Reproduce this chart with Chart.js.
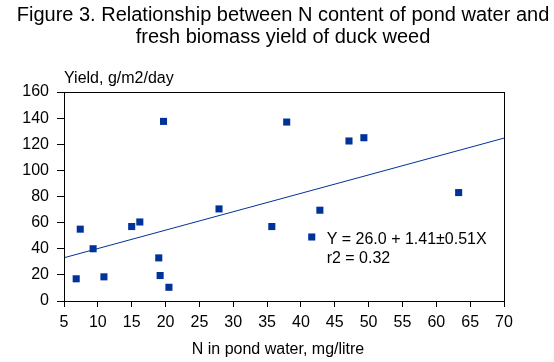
<!DOCTYPE html>
<html>
<head>
<meta charset="utf-8">
<script src="https://cdn.jsdelivr.net/npm/chart.js@4.4.0/dist/chart.umd.min.js"></script>
<style>
  html, body { margin: 0; padding: 0; background: #fff; }
  #wrap { width: 554px; height: 362px; }
</style>
</head>
<body>
<div id="wrap"><canvas id="chart" width="554" height="362"></canvas></div>
<script>
// N in pond water (mg/litre) and fresh biomass yield (g/m2/day)
const nWater = [6.8, 7.4, 9.3, 10.9, 15.0, 16.2, 19.0, 19.2, 19.7, 20.5, 27.9, 35.7, 37.9, 41.6, 42.8, 47.1, 49.3, 63.3];
const yieldVals = [17, 55, 40, 18.5, 57, 60.5, 33, 19.5, 137.5, 10.5, 70.5, 57, 137, 49, 69.5, 122.5, 125, 83];

// fitted line end points
const fitX = [5, 70];
const fitY = [33.1, 124.7];

const xTicks = [5, 10, 15, 20, 25, 30, 35, 40, 45, 50, 55, 60, 65, 70];
const yTicks = [0, 20, 40, 60, 80, 100, 120, 140, 160];

const titleLines = ['Figure 3. Relationship between N content of pond water and', 'fresh biomass yield of duck weed'];
const equationLines = ['Y = 26.0 + 1.41\u00b10.51X', 'r2 = 0.32'];

const blue = '#003399';
const font = '"Liberation Sans", Arial, sans-serif';

const decor = {
  id: 'decor',
  afterDraw(chart) {
    const { ctx, chartArea: a, scales } = chart;
    ctx.save();
    ctx.strokeStyle = '#000';
    ctx.lineWidth = 1;
    ctx.strokeRect(a.left + 0.5, a.top + 0.5, a.right - a.left, a.bottom - a.top);

    ctx.fillStyle = '#000';
    ctx.textBaseline = 'middle';
    ctx.textAlign = 'center';
    ctx.font = '20px ' + font;
    ctx.fillText(titleLines[0], 283, 15);
    ctx.fillText(titleLines[1], 283, 37);

    ctx.font = '16px ' + font;
    ctx.textAlign = 'left';
    ctx.fillText('Yield, g/m2/day', 64, 79);

    ctx.textAlign = 'center';
    ctx.fillText('N in pond water, mg/litre', 278, 350);

    ctx.textAlign = 'left';
    const ex = scales.x.getPixelForValue(43.8);
    const ey = scales.y.getPixelForValue(47);
    ctx.fillText(equationLines[0], ex, ey);
    ctx.fillText(equationLines[1], ex, ey + 19);
    ctx.restore();
  }
};

new Chart(document.getElementById('chart'), {
  type: 'scatter',
  data: {
    datasets: [
      {
        label: 'Yield',
        data: nWater.map((x, i) => ({ x, y: yieldVals[i] })),
        pointStyle: 'rect',
        pointRadius: 5,
        pointBackgroundColor: blue,
        pointBorderWidth: 0,
        showLine: false
      },
      {
        label: 'Fit',
        type: 'line',
        data: fitX.map((x, i) => ({ x, y: fitY[i] })),
        borderColor: blue,
        borderWidth: 1,
        pointRadius: 0,
        fill: false
      }
    ]
  },
  options: {
    responsive: false,
    animation: false,
    layout: { padding: { top: 92, right: 50, left: 0, bottom: 0 } },
    plugins: {
      legend: { display: false },
      tooltip: { enabled: false }
    },
    scales: {
      x: {
        type: 'linear',
        min: 5,
        max: 70,
        afterBuildTicks: s => { s.ticks = xTicks.map(v => ({ value: v })); },
        afterFit: s => { s.height = 61; },
        grid: { drawOnChartArea: false, drawTicks: true, tickLength: 6, color: '#000' },
        border: { color: '#000' },
        ticks: { color: '#000', padding: 6, maxRotation: 0, font: { family: font, size: 16 } }
      },
      y: {
        type: 'linear',
        min: 0,
        max: 160,
        afterBuildTicks: s => { s.ticks = yTicks.map(v => ({ value: v })); },
        afterFit: s => { s.width = 64; },
        grid: { drawOnChartArea: false, drawTicks: true, tickLength: 7, color: '#000' },
        border: { color: '#000' },
        ticks: { color: '#000', padding: 8, font: { family: font, size: 16 } }
      }
    }
  },
  plugins: [decor]
});
</script>
</body>
</html>
